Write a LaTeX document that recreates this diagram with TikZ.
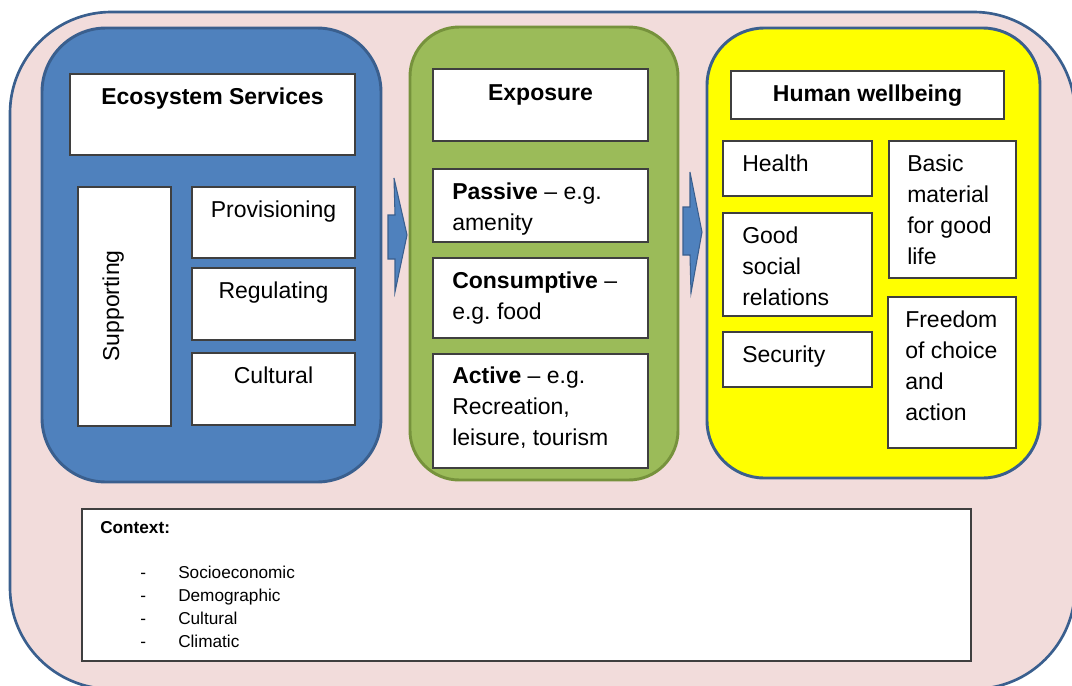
\documentclass[tikz,border=0pt]{standalone}
\usepackage{fontspec}
\setmainfont{Liberation Sans}
\usetikzlibrary{fit}
\definecolor{pinkbg}{HTML}{F2DCDB}
\definecolor{navyline}{HTML}{3A5F8E}
\definecolor{bluefill}{HTML}{4F81BD}
\definecolor{greenfill}{HTML}{9BBB59}
\definecolor{greenline}{HTML}{76923C}
\definecolor{yellowfill}{HTML}{FFFF00}
\definecolor{boxline}{HTML}{3F3F3F}
\newcommand\mylines[1]{\vtop{\halign{##\hfil\cr#1\crcr}}}
\frenchspacing
\begin{document}
\begin{tikzpicture}[x=0.75pt,y=-0.75pt,
  outerbox/.style={draw=navyline, fill=pinkbg, line width=2pt, rounded corners=76pt, inner sep=0pt},
  bluepanel/.style={draw=navyline, fill=bluefill, line width=2.2pt, rounded corners=48pt, inner sep=0pt},
  greenpanel/.style={draw=greenline, fill=greenfill, line width=2.2pt, rounded corners=37pt, inner sep=0pt},
  yellowpanel/.style={draw=navyline, fill=yellowfill, line width=2.2pt, rounded corners=43pt, inner sep=0pt},
  wbox/.style={draw=boxline, fill=white, line width=1.1pt, inner sep=0pt},
  txt/.style={font=\fontsize{17.25}{23.25}\selectfont, inner sep=0pt},
  ttl/.style={font=\bfseries\fontsize{17.25}{23.25}\selectfont, inner sep=0pt, anchor=base},
  smalltxt/.style={font=\fontsize{12.9}{17.25}\selectfont, inner sep=0pt, anchor=base west},
  blockarrow/.style={fill=bluefill, draw=navyline, line width=0.8pt, line join=miter}
]
\useasboundingbox (0,0) rectangle (1072,686);
\clip (0,0) rectangle (1072,686);
\fill[white] (0,0) rectangle (1072,686);

% outer container
\node[outerbox, fit={(10,12)(1075,689)}] (outer) {};

% panels
\node[bluepanel, fit={(42,28)(381,482)}] (blue) {};
\node[greenpanel, fit={(410,27)(678,480)}] (green) {};
\node[yellowpanel, fit={(707,28)(1040,478)}] (yellow) {};

% arrows between panels
\draw[blockarrow] (388,215) -- (395,215) -- (394,178) -- (407,235) -- (395,292) -- (395,259) -- (388,259) -- cycle;
\draw[blockarrow] (683,207) -- (690,207) -- (690,172) -- (702,232) -- (691,293) -- (690,255) -- (683,255) -- cycle;

% Ecosystem services boxes
\node[wbox, fit={(70,74)(355,155)}] (es) {};
\node[wbox, fit={(78,187)(171,426)}] (sup) {};
\node[wbox, fit={(192,187)(355,258)}] (prov) {};
\node[wbox, fit={(192,268)(355,340)}] (reg) {};
\node[wbox, fit={(192,353)(355,425)}] (cult) {};

% Exposure boxes
\node[wbox, fit={(433,69)(648,141)}] (expo) {};
\node[wbox, fit={(433,169)(648,242)}] (pas) {};
\node[wbox, fit={(433,258)(648,338)}] (cons) {};
\node[wbox, fit={(433,354)(648,468)}] (act) {};

% Human wellbeing boxes
\node[wbox, fit={(731,71)(1004,119)}] (hw) {};
\node[wbox, fit={(723,141)(872,196)}] (health) {};
\node[wbox, fit={(723,213)(872,316)}] (good) {};
\node[wbox, fit={(723,332)(872,387)}] (sec) {};
\node[wbox, fit={(889,141)(1016,278)}] (basic) {};
\node[wbox, fit={(888,297)(1016,448)}] (free) {};

% Context box
\node[wbox, fit={(82,509)(971,661)}] (ctx) {};

% texts
\node[ttl] (tes) at (212.5,104) {Ecosystem Services};
\node[txt, anchor=base, rotate=90] (tsup) at (119,306) {Supporting};
\node[txt, anchor=base] (tprov) at (273.5,217) {Provisioning};
\node[txt, anchor=base] (treg) at (273.5,298) {Regulating};
\node[txt, anchor=base] (tcult) at (273.5,383) {Cultural};

\node[ttl] (texpo) at (540.5,100) {Exposure};
\node[txt, anchor=base west] (tpas) at (452,199) {\mylines{\textbf{Passive} – e.g.\cr amenity}};
\node[txt, anchor=base west] (tcons) at (452,288) {\mylines{\textbf{Consumptive} –\cr e.g. food}};
\node[txt, anchor=base west] (tact) at (452,383) {\mylines{\textbf{Active} – e.g.\cr Recreation,\cr leisure, tourism}};

\node[ttl] (thw) at (867.5,101) {Human wellbeing};
\node[txt, anchor=base west] (thealth) at (742,171) {Health};
\node[txt, anchor=base west] (tgood) at (742,243) {\mylines{Good\cr social\cr relations}};
\node[txt, anchor=base west] (tsec) at (742,362) {Security};
\node[txt, anchor=base west] (tbasic) at (907,171) {\mylines{Basic\cr material\cr for good\cr life}};
\node[txt, anchor=base west] (tfree) at (905,327) {\mylines{Freedom\cr of choice\cr and\cr action}};

\node[smalltxt, font=\bfseries\fontsize{12.9}{17.25}\selectfont] (tctx) at (100,533) {Context:};
\node[smalltxt] (tlist) at (140,578) {\mylines{\makebox[28.5pt][l]{-}Socioeconomic\cr\makebox[28.5pt][l]{-}Demographic\cr\makebox[28.5pt][l]{-}Cultural\cr\makebox[28.5pt][l]{-}Climatic}};
\end{tikzpicture}
\end{document}
